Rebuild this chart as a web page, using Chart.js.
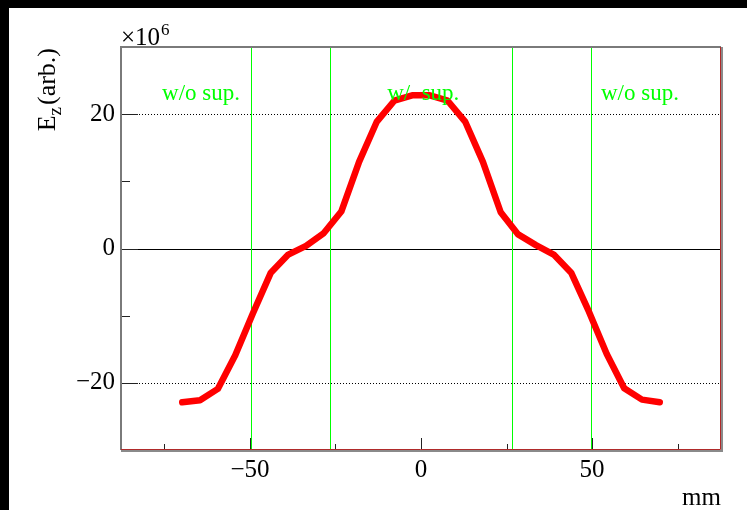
<!DOCTYPE html>
<html>
<head>
<meta charset="utf-8">
<script src="https://cdn.jsdelivr.net/npm/chart.js@4/dist/chart.umd.min.js"></script>
<style>
    html, body { margin: 0; padding: 0; background: #000; width: 747px; height: 510px; overflow: hidden; }
    #pad { position: absolute; left: 9px; top: 8px; width: 738px; height: 502px; background: #fff; }
</style>
</head>
<body>
<div id="pad"><canvas id="ezChart" width="738" height="502"></canvas></div>
<script>
// Ez profile along the beam axis (mm), values in units of 1e6
const posMm = [-69.8, -64.6, -59.4, -54.3, -49.1, -43.9, -38.8, -33.6, -28.4, -23.3, -18.1, -12.9, -7.8, -2.6,
               2.6, 7.8, 12.9, 18.1, 23.3, 28.4, 33.6, 38.8, 43.9, 49.1, 54.3, 59.4, 64.6, 69.8];
const ezValues = [-22.9, -22.6, -20.9, -15.9, -9.6, -3.6, -0.9, 0.4, 2.3, 5.5, 12.9, 18.9, 22.0, 22.8,
                  22.8, 22.0, 18.9, 12.9, 5.4, 2.1, 0.5, -0.9, -3.6, -9.4, -15.7, -20.8, -22.5, -22.9];

const xTicks = [-50, 0, 50];
const xMinorTicks = [-75, -25, 25, 75];
const yTicks = [-20, 0, 20];
const yMinorTicks = [-10, 10];
const xRange = [-87.7, 87.7];
const yRange = [-30, 30];

// suppression region boundaries and their labels
const regionEdges = [-49.7, -26.6, 26.6, 49.7];
const regionLabels = ['w/o sup.', 'w/  sup.', 'w/o sup.'];
const regionLabelX = [-75.7, -9.9, 52.6];
const regionLabelY = 22.1;

const SERIF = '"Liberation Serif", "DejaVu Serif", serif';
const GREEN = '#00ff00';

function fmtTick(v) {
    return v < 0 ? '\u2212' + Math.abs(v) : String(v);
}

// grid lines and region markers, drawn under the curve
const backgroundLines = {
    id: 'backgroundLines',
    beforeDatasetsDraw(chart) {
        const { ctx, chartArea: a, scales: { x, y } } = chart;
        ctx.save();
        ctx.lineWidth = 1;
        ctx.strokeStyle = '#000';
        yTicks.forEach(v => {
            const py = Math.round(y.getPixelForValue(v)) + 0.5;
            ctx.setLineDash(v === 0 ? [] : [1, 2]);
            ctx.beginPath();
            ctx.moveTo(a.left, py);
            ctx.lineTo(a.right, py);
            ctx.stroke();
        });
        ctx.setLineDash([]);
        ctx.fillStyle = GREEN;
        regionEdges.forEach(v => {
            const px = Math.round(x.getPixelForValue(v));
            ctx.fillRect(px, a.top, 1, a.bottom - a.top);
        });
        ctx.restore();
    }
};

// frame, inner ticks, titles and region labels
const frameAndText = {
    id: 'frameAndText',
    afterDraw(chart) {
        const { ctx, chartArea: a, scales: { x, y } } = chart;
        ctx.save();

        // region labels
        ctx.fillStyle = GREEN;
        ctx.font = '23px ' + SERIF;
        ctx.textBaseline = 'alphabetic';
        ctx.textAlign = 'left';
        regionLabels.forEach((t, i) => {
            ctx.fillText(t, x.getPixelForValue(regionLabelX[i]), y.getPixelForValue(regionLabelY));
        });

        // ticks
        ctx.strokeStyle = '#222';
        ctx.lineWidth = 1;
        const tickX = (vals, len) => vals.forEach(v => {
            const px = Math.round(x.getPixelForValue(v)) + 0.5;
            ctx.beginPath();
            ctx.moveTo(px, a.bottom);
            ctx.lineTo(px, a.bottom - len);
            ctx.stroke();
        });
        const tickY = (vals, len) => vals.forEach(v => {
            const py = Math.round(y.getPixelForValue(v)) + 0.5;
            ctx.beginPath();
            ctx.moveTo(a.left, py);
            ctx.lineTo(a.left + len, py);
            ctx.stroke();
        });
        tickX(xTicks, 12);
        tickX(xMinorTicks, 6);
        tickY(yTicks, 17);
        tickY(yMinorTicks, 9);

        // frame: grey top/left, red-edged bottom/right
        ctx.lineWidth = 2;
        ctx.strokeStyle = '#7a7a7a';
        ctx.beginPath();
        ctx.moveTo(a.left, a.bottom);
        ctx.lineTo(a.left, a.top);
        ctx.lineTo(a.right, a.top);
        ctx.stroke();
        ctx.strokeStyle = '#8a8a8a';
        ctx.beginPath();
        ctx.moveTo(a.left, a.bottom + 1);
        ctx.lineTo(a.right + 1, a.bottom + 1);
        ctx.lineTo(a.right + 1, a.top);
        ctx.stroke();
        ctx.lineWidth = 1;
        ctx.strokeStyle = '#b02a2a';
        ctx.beginPath();
        ctx.moveTo(a.left, a.bottom - 0.5);
        ctx.lineTo(a.right - 0.5, a.bottom - 0.5);
        ctx.lineTo(a.right - 0.5, a.top);
        ctx.stroke();

        // exponent label
        ctx.fillStyle = '#000';
        ctx.font = '25px ' + SERIF;
        ctx.textAlign = 'left';
        const base = '\u00d710';
        ctx.fillText(base, a.left, a.top - 2);
        const bw = ctx.measureText(base).width;
        ctx.font = '17px ' + SERIF;
        ctx.fillText('6', a.left + bw + 1, a.top - 12);

        // x title
        ctx.font = '25px ' + SERIF;
        ctx.textAlign = 'right';
        ctx.fillText('mm', a.right, a.bottom + 55);

        // y title, rotated, ending at the top of the frame
        ctx.translate(46, a.top + 1);
        ctx.rotate(-Math.PI / 2);
        ctx.textAlign = 'left';
        ctx.font = '26px ' + SERIF;
        const wE = ctx.measureText('E').width;
        const wRest = ctx.measureText('(arb.)').width;
        ctx.font = '19px ' + SERIF;
        const wZ = ctx.measureText('z').width;
        let cx = -(wE + wZ + wRest + 2);
        ctx.font = '26px ' + SERIF;
        ctx.fillText('E', cx, 0);
        cx += wE;
        ctx.font = '19px ' + SERIF;
        ctx.fillText('z', cx, 6);
        cx += wZ + 2;
        ctx.font = '26px ' + SERIF;
        ctx.fillText('(arb.)', cx, 0);

        ctx.restore();
    }
};

const ctx = document.getElementById('ezChart').getContext('2d');
new Chart(ctx, {
    type: 'line',
    data: {
        datasets: [{
            data: posMm.map((p, i) => ({ x: p, y: ezValues[i] })),
            borderColor: '#ff0000',
            borderWidth: 6.5,
            borderJoinStyle: 'round',
            borderCapStyle: 'round',
            pointRadius: 0,
            tension: 0,
            fill: false
        }]
    },
    options: {
        responsive: false,
        animation: false,
        layout: { padding: { top: 39, right: 26, left: 0, bottom: 0 } },
        plugins: {
            legend: { display: false },
            tooltip: { enabled: false }
        },
        scales: {
            x: {
                type: 'linear',
                min: xRange[0],
                max: xRange[1],
                afterBuildTicks: s => { s.ticks = xTicks.map(v => ({ value: v })); },
                afterFit: s => { s.height = 60; },
                grid: { display: false, drawTicks: false },
                border: { display: false },
                ticks: {
                    padding: 5,
                    color: '#000',
                    font: { family: SERIF, size: 25 },
                    maxRotation: 0,
                    callback: fmtTick
                }
            },
            y: {
                min: yRange[0],
                max: yRange[1],
                afterBuildTicks: s => { s.ticks = yTicks.map(v => ({ value: v })); },
                afterFit: s => { s.width = 112; },
                grid: { display: false, drawTicks: false },
                border: { display: false },
                ticks: {
                    padding: 6,
                    color: '#000',
                    font: { family: SERIF, size: 25 },
                    callback: fmtTick
                }
            }
        }
    },
    plugins: [backgroundLines, frameAndText]
});
</script>
</body>
</html>
